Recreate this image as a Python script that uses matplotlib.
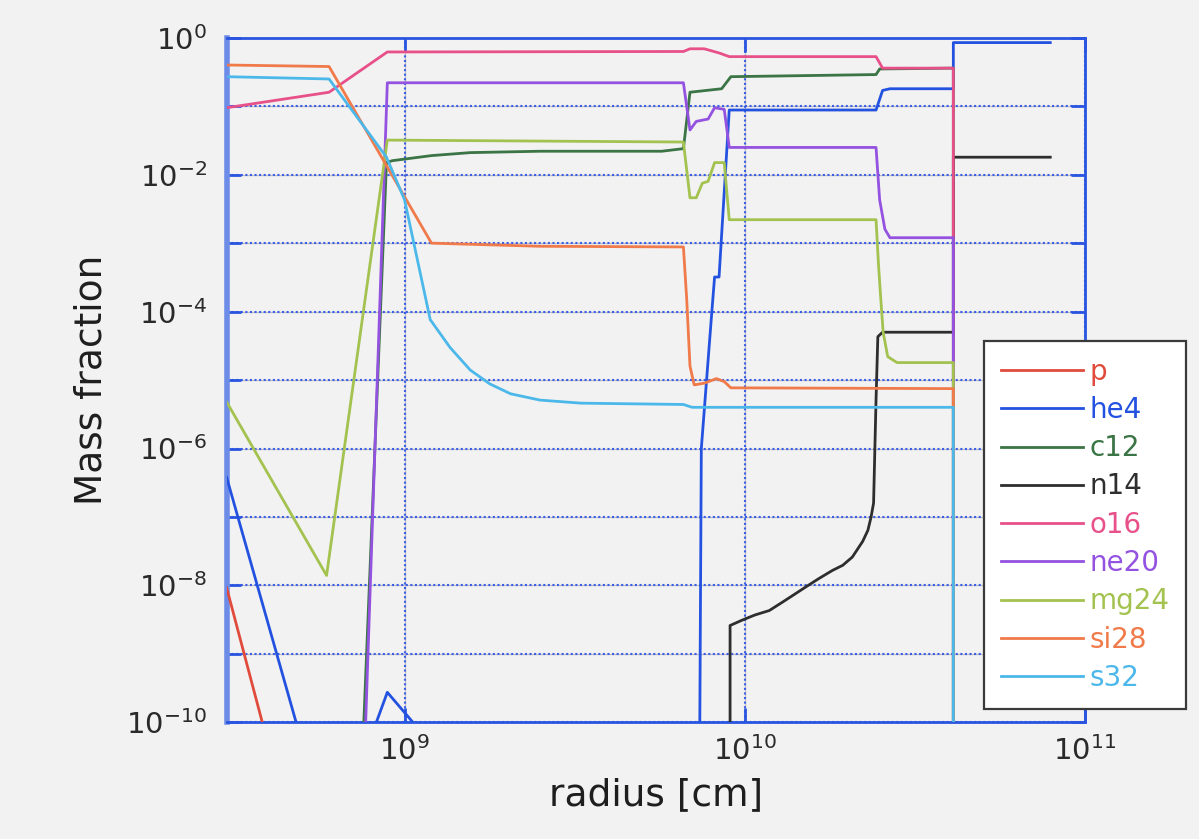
import numpy as np
import matplotlib
matplotlib.use("Agg")
import matplotlib.pyplot as plt
from matplotlib.ticker import FixedLocator, FuncFormatter, NullLocator

nan = np.nan

# species names and colours (legend order)
SPECIES = ['p', 'he4', 'c12', 'n14', 'o16', 'ne20', 'mg24', 'si28', 's32']
COLORS = ['#e04b3c', '#2452e0', '#3b7445', '#2e2e2e', '#e8508a',
          '#9452e0', '#a3c24f', '#f07a4a', '#4cb8ea']

# radius [cm] and mass fraction for each species
p_r = [3.0e8, 4.0e8]
p_x = [9.3e-9, 4.2e-11]

he4_r = [3.0e8, 5.06e8, nan, 8.04e8, 8.9e8, 1.1e9, nan,
         7.3e9, 7.45e9, 8.0e9, 8.15e9, 8.4e9, 9.0e9, 2.43e10, 2.54e10,
         2.67e10, 4.1e10, 4.1e10, 7.9e10]
he4_x = [3.8e-7, 4.0e-11, nan, 6.9e-11, 2.75e-10, 8.0e-11, nan,
         1e-14, 1e-6, 1e-4, 3.2e-4, 3.2e-4, 0.088, 0.088, 0.17,
         0.18, 0.18, 0.85, 0.85]

c12_r = [7.45e8, 8.85e8, 9.2e8, 1.2e9, 1.56e9, 2.5e9, 5.7e9, 6.6e9,
         6.9e9, 8.55e9, 9.1e9, 2.43e10, 2.49e10, 4.1e10, 4.1e10]
c12_x = [1e-11, 0.015, 0.016, 0.019, 0.021, 0.022, 0.022, 0.024,
         0.16, 0.18, 0.27, 0.29, 0.35, 0.36, 1e-14]

n14_r = [9.05e9, 9.05e9, 9.8e9, 1.07e10, 1.18e10, 1.29e10, 1.41e10, 1.51e10,
         1.65e10, 1.81e10, 1.94e10, 2.07e10, 2.22e10, 2.30e10, 2.35e10,
         2.39e10, 2.43e10, 2.46e10, 2.54e10, 4.1e10, 4.1e10, 7.9e10]
n14_x = [1e-14, 2.6e-9, 3.1e-9, 3.7e-9, 4.3e-9, 5.7e-9, 7.6e-9, 9.5e-9,
         1.26e-8, 1.66e-8, 1.97e-8, 2.6e-8, 4.4e-8, 6.4e-8, 1.0e-7,
         1.6e-7, 5.1e-6, 4.3e-5, 5e-5, 5e-5, 0.018, 0.018]

o16_r = [3.0e8, 6.0e8, 8.9e8, 6.6e9, 6.9e9, 7.6e9, 8.4e9, 9.0e9,
         2.43e10, 2.54e10, 4.1e10, 4.1e10]
o16_x = [0.095, 0.16, 0.62, 0.63, 0.69, 0.69, 0.6, 0.53,
         0.53, 0.36, 0.36, 1e-14]

ne20_r = [7.45e8, 8.9e8, 6.6e9, 6.9e9, 7.2e9, 7.8e9, 8.15e9, 8.7e9,
          9.0e9, 2.43e10, 2.49e10, 2.58e10, 2.67e10, 4.1e10, 4.1e10]
ne20_x = [1e-12, 0.22, 0.22, 0.045, 0.06, 0.065, 0.095, 0.09,
          0.025, 0.025, 0.0043, 0.0016, 0.0012, 0.0012, 1e-14]

mg24_r = [3.0e8, 5.9e8, 8.9e8, 6.6e9, 6.9e9, 7.2e9, 7.5e9, 7.8e9,
          8.15e9, 8.7e9, 9.0e9, 2.43e10, 2.47e10, 2.5e10, 2.55e10,
          2.63e10, 2.8e10, 4.1e10, 4.1e10]
mg24_x = [4.8e-6, 1.4e-8, 0.032, 0.030, 0.0046, 0.0046, 0.0075, 0.008,
          0.015, 0.015, 0.0022, 0.0022, 5e-4, 2e-4, 5e-5,
          2.2e-5, 1.8e-5, 1.8e-5, 1e-14]

si28_r = [3.0e8, 6.0e8, 1.2e9, 2.5e9, 6.6e9, 6.75e9, 6.9e9, 7.1e9,
          7.6e9, 8.25e9, 8.7e9, 9.1e9, 4.1e10, 4.1e10]
si28_x = [0.40, 0.38, 1.0e-3, 9e-4, 8.8e-4, 1.5e-4, 1.6e-5, 8.5e-6,
          9e-6, 1.05e-5, 9.5e-6, 7.7e-6, 7.5e-6, 1e-14]

s32_r = [3.0e8, 6.0e8, 8.85e8, 1.0e9, 1.19e9, 1.2e9, 1.36e9, 1.56e9,
         1.78e9, 2.05e9, 2.5e9, 3.3e9, 6.6e9, 7.0e9, 4.1e10, 4.1e10]
s32_x = [0.27, 0.25, 0.018, 4.3e-3, 7.6e-5, 7.2e-5, 3.0e-5, 1.4e-5,
         8.8e-6, 6.3e-6, 5.1e-6, 4.6e-6, 4.4e-6, 4.0e-6, 4.0e-6, 1e-14]

RADII = [p_r, he4_r, c12_r, n14_r, o16_r, ne20_r, mg24_r, si28_r, s32_r]
FRACS = [p_x, he4_x, c12_x, n14_x, o16_x, ne20_x, mg24_x, si28_x, s32_x]

Y_DECADES = list(range(-10, 1))
X_DECADES = [9, 10, 11]

BLUE = '#2a55e0'
BG = '#f2f2f2'


def decade_label(v, pos):
    e = int(round(np.log10(v)))
    if e % 2:
        return ''
    return r'$10^{%d}$' % e


def graph():
    plt.rcParams['font.family'] = ['DejaVu Sans']
    plt.rcParams['mathtext.default'] = 'regular'

    fig = plt.figure(figsize=(11.99, 8.39), dpi=100, facecolor=BG)
    ax = fig.add_axes([0.189, 0.139, 0.716, 0.816], facecolor=BG)

    for name, col, r, x in zip(SPECIES, COLORS, RADII, FRACS):
        ax.plot(r, x, color=col, lw=2.0, label=name, zorder=3)

    ax.set_xscale('log')
    ax.set_yscale('log')
    ax.set_xlim(3.0e8, 1e11)
    ax.set_ylim(1e-10, 1.0)

    ax.yaxis.set_major_locator(FixedLocator([10.0 ** e for e in Y_DECADES]))
    ax.yaxis.set_major_formatter(FuncFormatter(decade_label))
    ax.xaxis.set_major_locator(FixedLocator([10.0 ** e for e in X_DECADES]))
    ax.xaxis.set_major_formatter(FuncFormatter(
        lambda v, pos: r'$10^{%d}$' % int(round(np.log10(v)))))
    ax.yaxis.set_minor_locator(NullLocator())
    ax.xaxis.set_minor_locator(NullLocator())

    # grey underline + blue dotted grid
    for e in Y_DECADES:
        ax.axhline(10.0 ** e, color='#bcbcc6', lw=0.9, zorder=1)
    for e in X_DECADES[:-1]:
        ax.axvline(10.0 ** e, color='#bcbcc6', lw=0.9, zorder=1)
    ax.grid(True, which='major', color='#3a5ee6', linestyle=(0, (1, 1.2)),
            linewidth=1.5, zorder=2)

    ax.tick_params(axis='both', which='major', direction='in', length=10,
                   width=2, color=BLUE, labelsize=21, labelcolor='#2a2a2a',
                   top=True, right=True)
    ax.tick_params(axis='y', pad=14)
    ax.tick_params(axis='x', pad=10)

    for side in ['top', 'right', 'bottom']:
        ax.spines[side].set_color(BLUE)
        ax.spines[side].set_linewidth(2)
    ax.spines['left'].set_color('#6d8ce8')
    ax.spines['left'].set_linewidth(4)

    ax.set_ylabel('Mass fraction', fontsize=27, color='#1e1e1e', labelpad=12)
    ax.set_xlabel('radius [cm]', fontsize=27, color='#1e1e1e', labelpad=8)

    leg = fig.legend(loc='upper left', bbox_to_anchor=(984 / 1199, 1 - 341 / 839),
                     fontsize=20, handlelength=2.95, labelspacing=0.37,
                     borderpad=0.6, handletextpad=0.25, fancybox=False,
                     framealpha=1, edgecolor='#3a3a3a', facecolor='white',
                     borderaxespad=0)
    leg.get_frame().set_linewidth(1.6)
    for txt, col in zip(leg.get_texts(), COLORS):
        txt.set_color(col)

    fig.savefig('out.png', dpi=100, facecolor=BG)


if __name__ == "__main__":
    graph()
